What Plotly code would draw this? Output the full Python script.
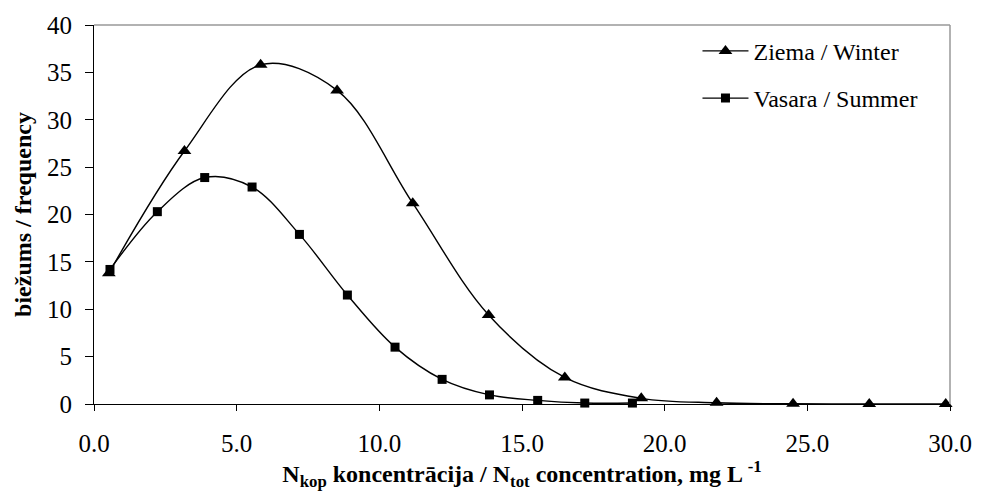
import plotly.graph_objects as go

# Data
winter_x = [0.52, 3.17, 5.84, 8.52, 11.17, 13.83, 16.5, 19.18, 21.82, 24.5, 27.17, 29.85]
winter_y = [13.8, 26.7, 35.8, 33.1, 21.2, 9.4, 2.8, 0.6, 0.13, 0.02, 0.0, 0.0]
summer_x = [0.56, 2.22, 3.88, 5.54, 7.2, 8.88, 10.55, 12.2, 13.86, 15.55, 17.2, 18.87]
summer_y = [14.2, 20.3, 23.9, 22.9, 17.9, 11.5, 6.0, 2.6, 0.96, 0.38, 0.1, 0.1]

x_ticks = [0, 5, 10, 15, 20, 25, 30]
y_ticks = [0, 5, 10, 15, 20, 25, 30, 35, 40]

serif = "Liberation Serif"

fig = go.Figure()
fig.add_trace(go.Scatter(
    x=winter_x, y=winter_y, name="Ziema / Winter", mode="lines+markers",
    line=dict(color="black", width=1.4, shape="spline", smoothing=1.0),
    marker=dict(symbol="triangle-up", size=12, color="black"),
    legendgroup="w", cliponaxis=False,
))
fig.add_trace(go.Scatter(
    x=summer_x, y=summer_y, name="Vasara / Summer", mode="lines+markers",
    line=dict(color="black", width=1.4, shape="spline", smoothing=1.0),
    marker=dict(symbol="square", size=9, color="black"),
    legendgroup="s", cliponaxis=False,
))

fig.update_layout(
    width=984, height=491,
    margin=dict(l=94, r=27, t=18, b=86),
    paper_bgcolor="white", plot_bgcolor="white",
    font=dict(family=serif, color="black"),
    showlegend=True,
    legend=dict(
        x=0.705, y=0.99, xanchor="left", yanchor="top",
        font=dict(family=serif, size=24, color="black"),
        bgcolor="rgba(0,0,0,0)", traceorder="grouped", tracegroupgap=13,
        itemwidth=46,
    ),
    xaxis=dict(
        range=[0, 30], tickvals=x_ticks, tickformat=".1f",
        showgrid=False, zeroline=False,
        showline=True, linecolor="black", linewidth=1.2,
        ticks="outside", ticklen=6, tickcolor="black", tickwidth=1.2,
        ticklabelstandoff=11,
        tickfont=dict(family=serif, size=25, color="black"),
        title=dict(
            text="<b>N<sub>kop</sub> koncentrācija / N<sub>tot</sub> concentration, mg L <sup>-1</sup></b>",
            font=dict(family=serif, size=24, color="black"), standoff=5,
        ),
    ),
    yaxis=dict(
        range=[0, 40], tickvals=y_ticks,
        showgrid=False, zeroline=False,
        showline=True, linecolor="black", linewidth=1.2,
        ticks="outside", ticklen=8, tickcolor="black", tickwidth=1.2,
        ticklabelstandoff=8,
        tickfont=dict(family=serif, size=25, color="black"),
        title=dict(
            text="<b>biežums / frequency</b>",
            font=dict(family=serif, size=24, color="black"), standoff=8,
        ),
    ),
    shapes=[
        dict(type="line", xref="paper", yref="paper", x0=0, x1=1, y0=1, y1=1,
             line=dict(color="#999999", width=1.5)),
        dict(type="line", xref="paper", yref="paper", x0=1, x1=1, y0=0, y1=1,
             line=dict(color="#999999", width=1.5)),
    ],
)

fig.write_html("out.html")
